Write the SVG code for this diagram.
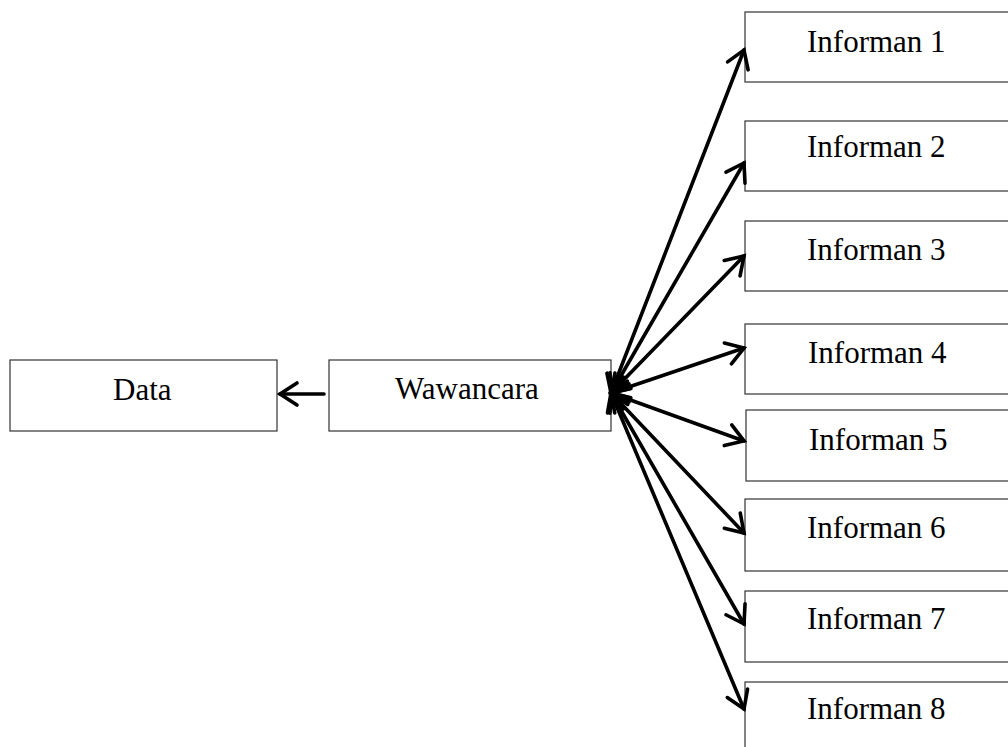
<svg xmlns="http://www.w3.org/2000/svg" width="1008" height="747" viewBox="0 0 1008 747">
<defs>
<style>
.box{fill:#fff;stroke:#333;stroke-width:1.2}
.lbl{font-family:"Liberation Serif","Times New Roman",serif;font-size:31px;fill:#000}
.con{stroke:#000;stroke-width:3.6;fill:none;stroke-linecap:round}
</style>
<marker id="ah" markerUnits="userSpaceOnUse" viewBox="-22 -15 26 30" markerWidth="26" markerHeight="30" refX="0" refY="0" orient="auto-start-reverse">
<path d="M-17,-11 L0,0 L-17,11" fill="none" stroke="#000" stroke-width="3.6" stroke-linecap="round" stroke-linejoin="miter"/>
</marker>
</defs>
<rect width="1008" height="747" fill="#fff"/>
<g id="data"><rect class="box" x="10" y="360" width="267" height="71"/><text class="lbl" x="113" y="400">Data</text></g>
<g id="wawancara"><rect class="box" x="329" y="360" width="282" height="71"/><text class="lbl" x="395" y="399">Wawancara</text></g>
<g id="informan1"><rect class="box" x="745" y="12" width="280" height="70"/><text class="lbl" x="807" y="52">Informan 1</text></g>
<g id="informan2"><rect class="box" x="745" y="121" width="280" height="70"/><text class="lbl" x="807" y="157">Informan 2</text></g>
<g id="informan3"><rect class="box" x="745" y="221" width="280" height="70"/><text class="lbl" x="807" y="260">Informan 3</text></g>
<g id="informan4"><rect class="box" x="745" y="324" width="280" height="70"/><text class="lbl" x="808" y="363">Informan 4</text></g>
<g id="informan5"><rect class="box" x="746" y="410" width="280" height="71"/><text class="lbl" x="809" y="450">Informan 5</text></g>
<g id="informan6"><rect class="box" x="745" y="499" width="280" height="72"/><text class="lbl" x="807" y="538">Informan 6</text></g>
<g id="informan7"><rect class="box" x="745" y="591" width="280" height="71"/><text class="lbl" x="807" y="629">Informan 7</text></g>
<g id="informan8"><rect class="box" x="745" y="682" width="280" height="80"/><text class="lbl" x="807" y="719">Informan 8</text></g>
<g id="connectors">
<line class="con" x1="324" y1="394" x2="280" y2="394" marker-end="url(#ah)"/>
<line class="con" x1="611" y1="393" x2="744" y2="50" marker-start="url(#ah)" marker-end="url(#ah)"/>
<line class="con" x1="611" y1="393" x2="744" y2="163" marker-start="url(#ah)" marker-end="url(#ah)"/>
<line class="con" x1="611" y1="393" x2="744" y2="256" marker-start="url(#ah)" marker-end="url(#ah)"/>
<line class="con" x1="611" y1="393" x2="744" y2="348" marker-start="url(#ah)" marker-end="url(#ah)"/>
<line class="con" x1="611" y1="393" x2="744" y2="441" marker-start="url(#ah)" marker-end="url(#ah)"/>
<line class="con" x1="611" y1="393" x2="744" y2="533" marker-start="url(#ah)" marker-end="url(#ah)"/>
<line class="con" x1="611" y1="393" x2="744" y2="624" marker-start="url(#ah)" marker-end="url(#ah)"/>
<line class="con" x1="611" y1="393" x2="744" y2="709" marker-start="url(#ah)" marker-end="url(#ah)"/>
</g>
</svg>
